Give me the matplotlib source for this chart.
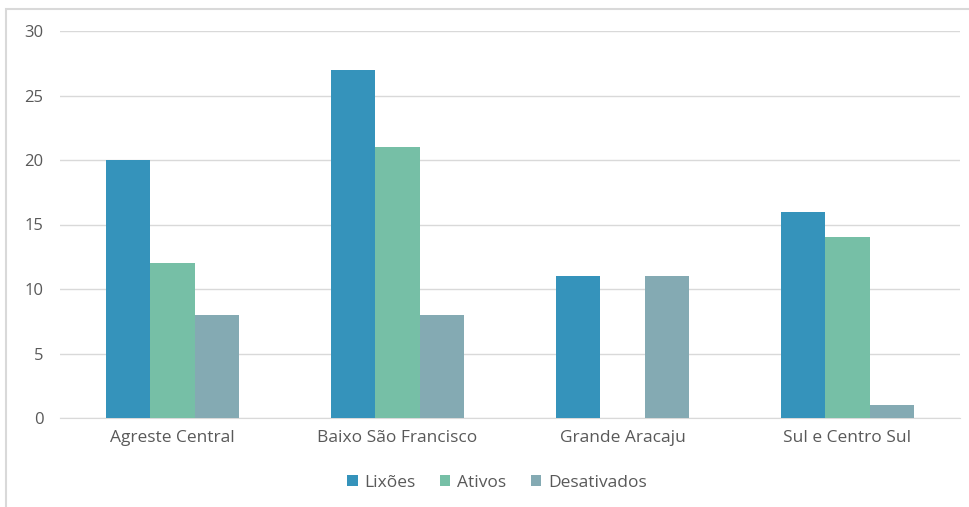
import matplotlib
matplotlib.use("Agg")
import matplotlib.pyplot as plt
import numpy as np
from matplotlib.patches import Rectangle

categories = ["Agreste Central", "Baixo São Francisco", "Grande Aracaju", "Sul e Centro Sul"]
series_names = ["Lixões", "Ativos", "Desativados"]
lixoes = [20, 27, 11, 16]
ativos = [12, 21, 0, 14]
desativados = [8, 8, 11, 1]
colors = ["#3593BB", "#76BFA6", "#84AAB3"]
yticks = [0, 5, 10, 15, 20, 25, 30]

plt.rcParams['font.family'] = ['Open Sans', 'DejaVu Sans']

fig = plt.figure(figsize=(9.7, 5.07), dpi=100)
fig.patches.append(Rectangle((6/970, -0.1), 1.2, 1 - 9/507 + 0.1, transform=fig.transFigure,
                             fill=False, edgecolor="#D9D9D9", linewidth=1.5))
ax = fig.add_axes([60/970, 1 - 418/507, 900/970, (418 - 31)/507])

x = np.arange(len(categories))
w = 0.196
for i, (vals, name) in enumerate(zip([lixoes, ativos, desativados], series_names)):
    ax.bar(x + (i - 1) * w, vals, width=w, color=colors[i], label=name, zorder=3)

ax.set_xlim(-0.5, len(categories) - 0.5)
ax.set_ylim(0, 30)
ax.set_yticks(yticks)
ax.set_xticks(x)
ax.set_xticklabels(categories)
ax.yaxis.grid(True, color="#D9D9D9", linewidth=1, zorder=0)
for s in ["top", "right", "left"]:
    ax.spines[s].set_visible(False)
ax.spines["bottom"].set_color("#D9D9D9")
ax.tick_params(axis="both", length=0, colors="#595959")
ax.tick_params(axis="x", labelsize=12.5, pad=9)
ax.tick_params(axis="y", labelsize=12, pad=12)

ax.legend(loc="center", bbox_to_anchor=(497/970, 1 - 483/507), bbox_transform=fig.transFigure,
          ncol=3, frameon=False, fontsize=12.5, handlelength=0.6, handleheight=0.6,
          handletextpad=0.4, columnspacing=1.4, labelcolor="#595959")

fig.savefig("out.png", dpi=100)
